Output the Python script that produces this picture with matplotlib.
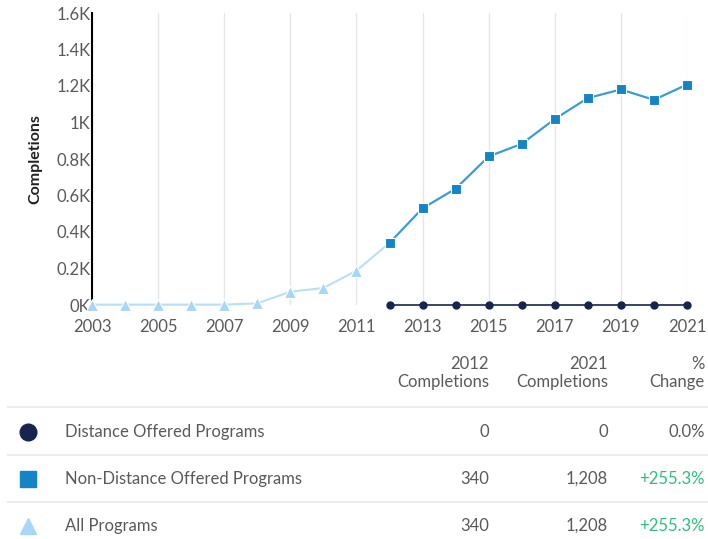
import matplotlib.pyplot as plt
from matplotlib.ticker import FuncFormatter

plt.rcParams['font.family'] = ['Lato', 'DejaVu Sans']

# data
years_all = list(range(2003, 2022))
all_programs = [2, 2, 2, 2, 2, 9, 73, 93, 188, 340, 530, 637, 814, 883, 1019, 1134, 1181, 1124, 1208]
years_recent = list(range(2012, 2022))
non_distance = [340, 530, 637, 814, 883, 1019, 1134, 1181, 1124, 1208]
distance = [0, 0, 0, 0, 0, 0, 0, 0, 0, 0]

series_names = ['Distance Offered Programs', 'Non-Distance Offered Programs', 'All Programs']
start_vals = ['0', '340', '340']
end_vals = ['0', '1,208', '1,208']
pct_change = ['0.0%', '+255.3%', '+255.3%']

NAVY = '#15254f'
BLUE = '#1384c5'
BLUE_LINE = '#3d9bd3'
LIGHT = '#a9d6f6'
LIGHT_LINE = '#b9dff8'
GREEN = '#2fbf7c'
GREY = '#5a5a5a'

W, H = 708, 539
fig = plt.figure(figsize=(W / 100, H / 100), dpi=100)


def fx(px):
    return px / W


def fy(py):
    return 1 - py / H


ax = fig.add_axes([fx(92), fy(305), fx(687) - fx(92), fy(13) - fy(305)])

ax.plot(years_all, all_programs, color=LIGHT_LINE, lw=1.5, marker='^', ms=8,
        mfc=LIGHT, mec='white', mew=0.8, clip_on=False, zorder=3)
ax.plot(years_recent, non_distance, color=BLUE_LINE, lw=1.5, marker='s', ms=7.5,
        mfc=BLUE, mec='white', mew=0.8, clip_on=False, zorder=4)
ax.plot(years_recent, distance, color=NAVY, lw=1.2, marker='o', ms=5,
        mfc=NAVY, mec=NAVY, clip_on=False, zorder=5)

ax.set_xlim(2003, 2021)
ax.set_ylim(0, 1600)
ax.set_xticks(range(2003, 2022, 2))
ax.set_yticks(range(0, 1601, 200))
ax.yaxis.set_major_formatter(FuncFormatter(lambda v, p: f'{v / 1000:g}K'))
ax.grid(axis='x', color='#e6e6e6', lw=1)
ax.set_axisbelow(True)
for s in ['top', 'right', 'bottom']:
    ax.spines[s].set_visible(False)
ax.spines['left'].set_color('black')
ax.spines['left'].set_linewidth(1.5)
ax.tick_params(length=0, labelsize=12, labelcolor=GREY)
ax.tick_params(axis='x', pad=10)
ax.tick_params(axis='y', pad=1)
ax.set_ylabel('Completions', fontsize=11.5, fontweight='bold', color='#222222', labelpad=10)

# table below the chart
FS = 12
cols_x = [489, 608, 705]
heads = ['2012\nCompletions', '2021\nCompletions', '%\nChange']
for cx, h in zip(cols_x, heads):
    fig.text(fx(cx), fy(373), h, ha='right', va='center', fontsize=FS,
             color=GREY, linespacing=1.2)

for ly in [407, 455, 502]:
    fig.add_artist(plt.Line2D([fx(8), fx(708)], [fy(ly), fy(ly)], color='#ececec', lw=1.5))

row_y = [432, 479, 526]
markers = ['o', 's', '^']
mcolors = [NAVY, BLUE, LIGHT]
for i, yy in enumerate(row_y):
    fig.add_artist(plt.Line2D([fx(28)], [fy(yy)], marker=markers[i], ms=12,
                              mfc=mcolors[i], mec=mcolors[i], ls='none'))
    fig.text(fx(65), fy(yy), series_names[i], ha='left', va='center', fontsize=FS, color=GREY)
    fig.text(fx(cols_x[0]), fy(yy), start_vals[i], ha='right', va='center', fontsize=FS, color=GREY)
    fig.text(fx(cols_x[1]), fy(yy), end_vals[i], ha='right', va='center', fontsize=FS, color=GREY)
    pc = GREEN if pct_change[i].startswith('+') else GREY
    fig.text(fx(cols_x[2]), fy(yy), pct_change[i], ha='right', va='center', fontsize=FS, color=pc)

fig.savefig('out.png', dpi=100)
